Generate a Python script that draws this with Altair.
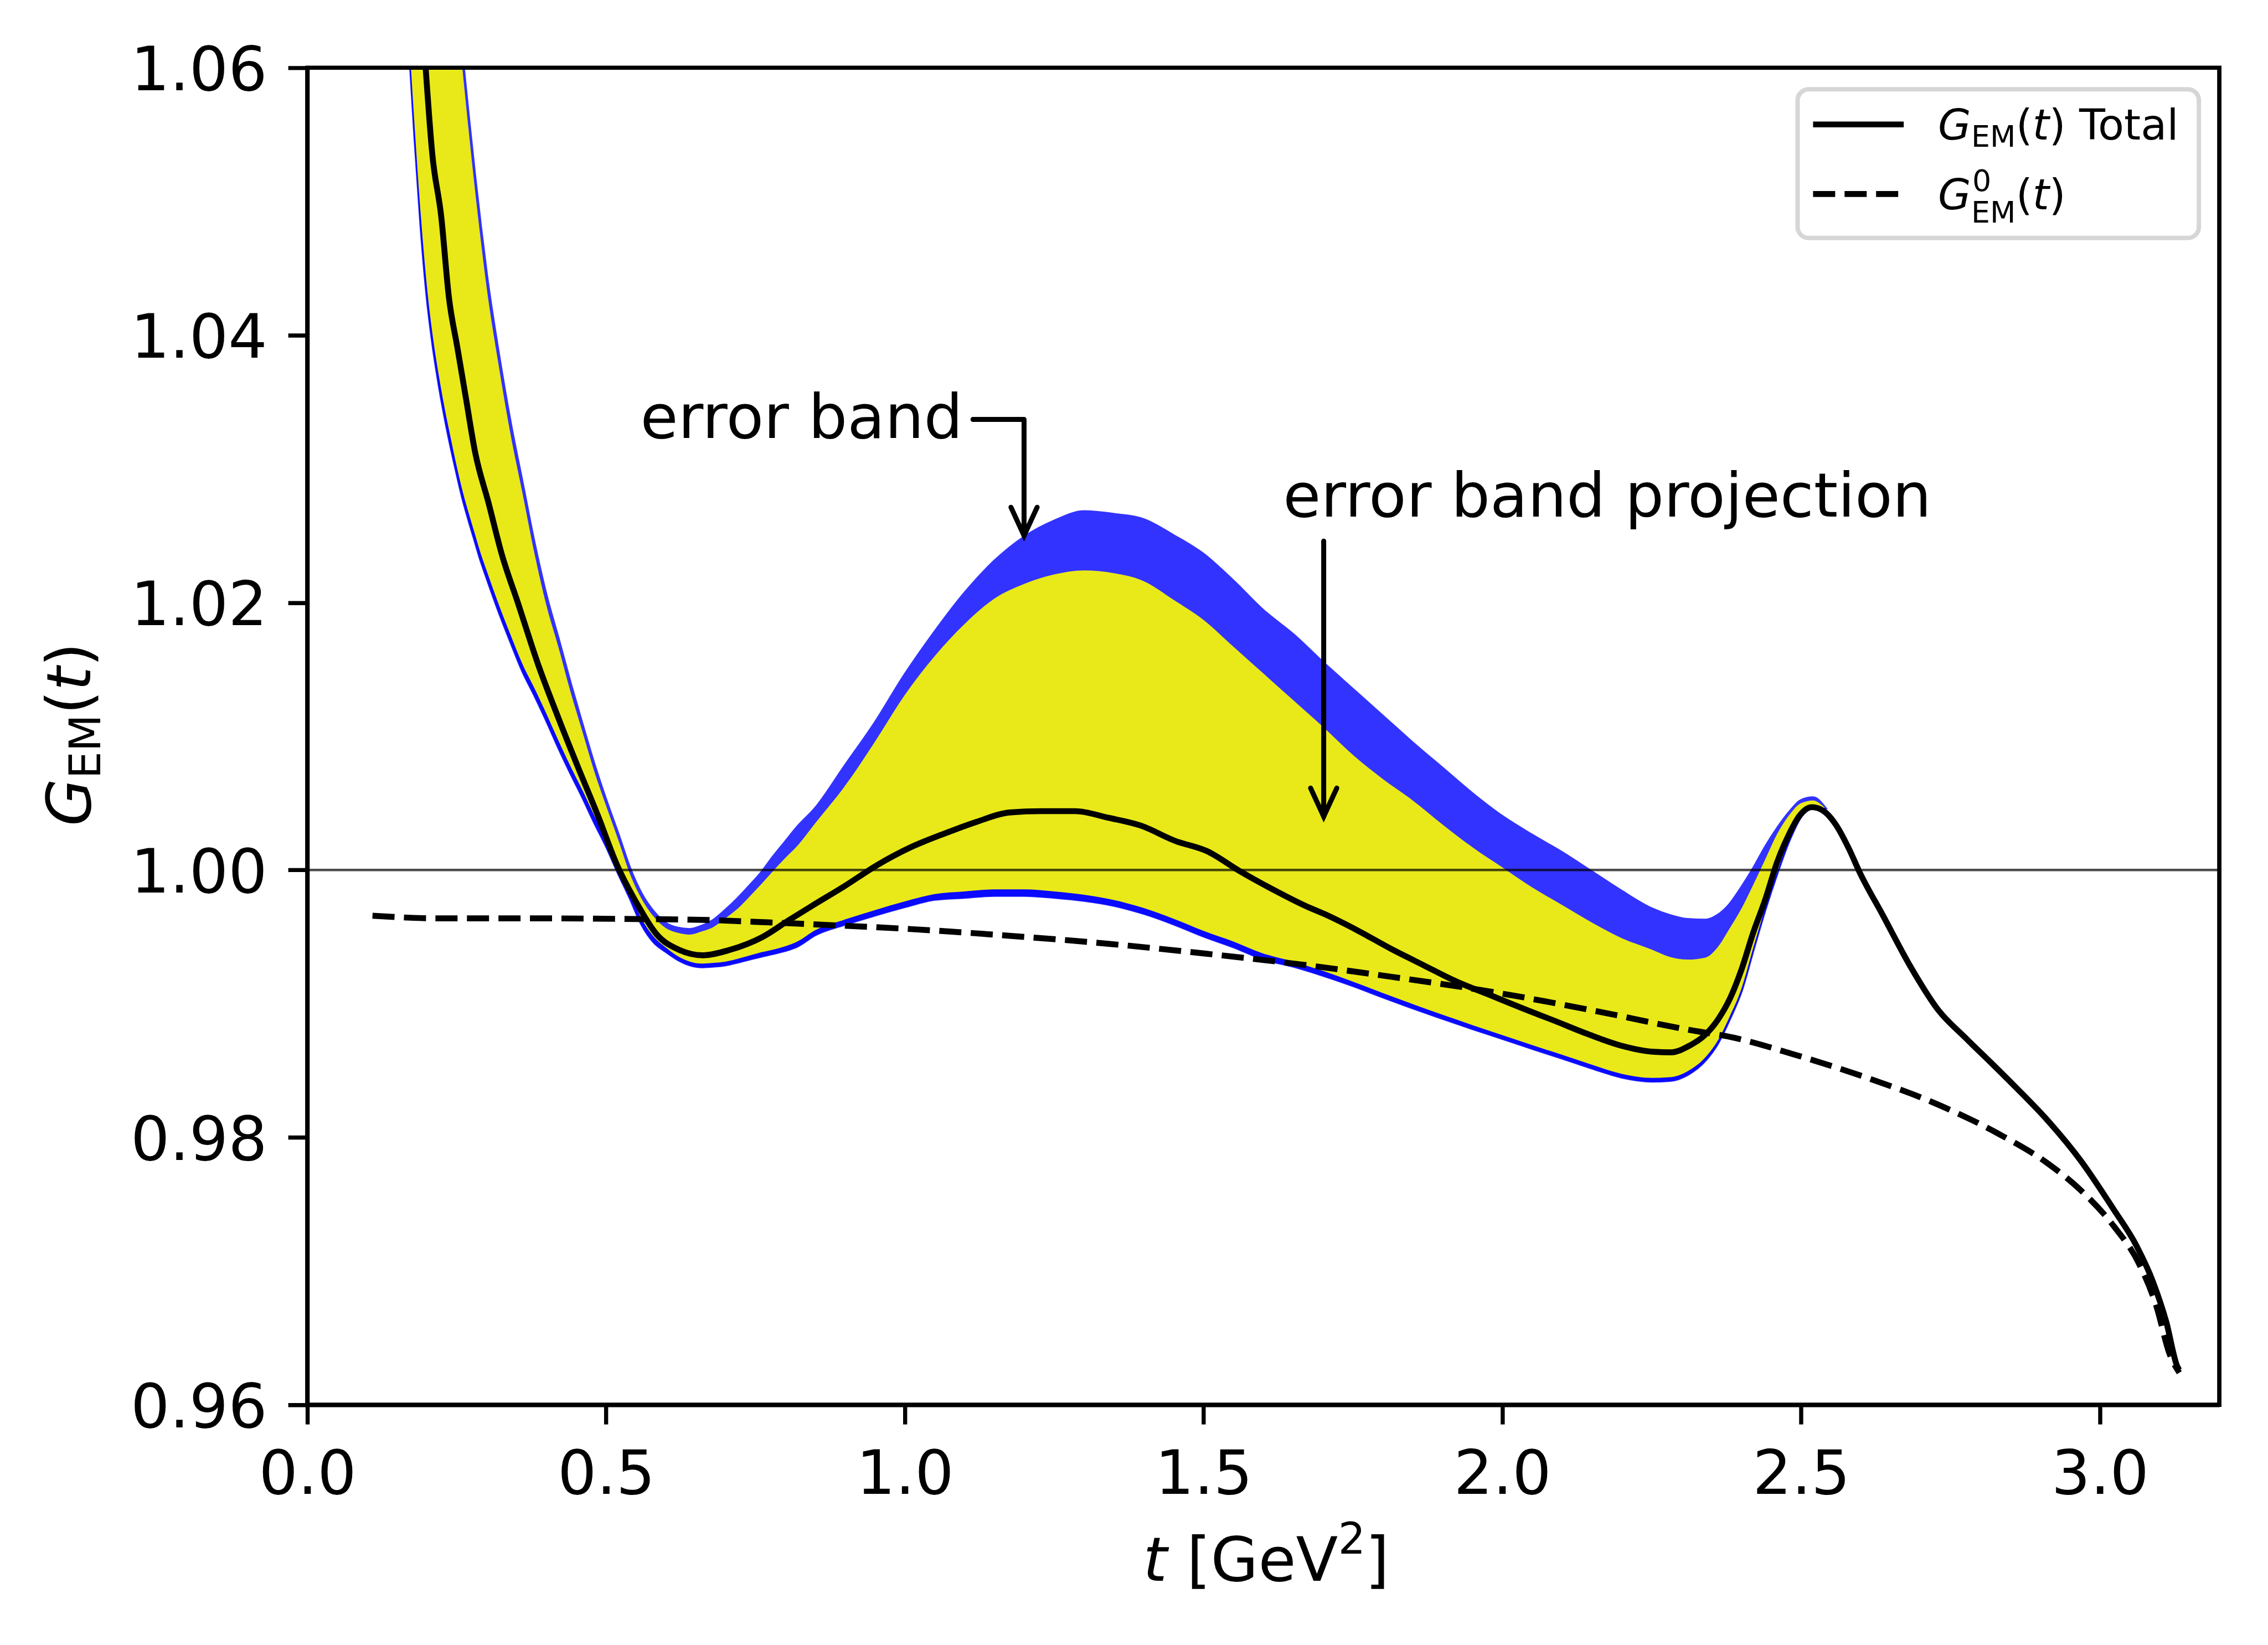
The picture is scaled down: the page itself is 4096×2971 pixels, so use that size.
import altair as alt
import pandas as pd

# ---------------- data ----------------
band_t = [0.17, 0.18, 0.19, 0.20, 0.21, 0.22, 0.23, 0.24, 0.25, 0.26, 0.27, 0.28, 0.29, 0.30,
          0.32, 0.34, 0.36, 0.38, 0.40, 0.42, 0.44, 0.46, 0.48, 0.50, 0.52, 0.54, 0.56, 0.58,
          0.60, 0.62, 0.64, 0.66, 0.68, 0.70, 0.72, 0.74, 0.76, 0.78, 0.80, 0.82,
          0.85, 0.90, 0.95, 1.00, 1.05, 1.10, 1.15, 1.20, 1.25, 1.30, 1.35, 1.40, 1.45, 1.50,
          1.55, 1.60, 1.65, 1.70, 1.75, 1.80, 1.85, 1.90, 1.95, 2.00, 2.05, 2.10, 2.15, 2.20,
          2.25, 2.28, 2.31, 2.34, 2.36, 2.38, 2.40, 2.42, 2.44, 2.46, 2.48, 2.50, 2.52, 2.54]

yel_lo = [1.0625, 1.0553, 1.0489, 1.0437, 1.0399, 1.0370, 1.0345, 1.0323, 1.0302, 1.0283, 1.0267,
          1.0252, 1.0237, 1.0224,
          1.0199, 1.0176, 1.0154, 1.0136, 1.0117, 1.0097, 1.0078, 1.0060, 1.0041, 1.0023, 1.0002,
          0.9983, 0.9963, 0.9950, 0.9942, 0.99355, 0.99315, 0.99300, 0.99305, 0.99315, 0.99335,
          0.99360, 0.99385, 0.99405, 0.99430, 0.99465,
          0.99550, 0.99630, 0.99700, 0.99765, 0.99820, 0.99840, 0.99855, 0.99855, 0.99840, 0.99815,
          0.99775, 0.99715, 0.99635, 0.99545, 0.99465, 0.99375, 0.99315, 0.99245, 0.99165, 0.99080,
          0.98997, 0.98917, 0.98840, 0.98765, 0.98690, 0.98618, 0.98543, 0.98475, 0.98445,
          0.98450, 0.98495, 0.98600,
          0.98720, 0.98900, 0.99111, 0.99420, 0.99720, 0.99990, 1.00230, 1.00410, 1.00470, 1.00465]

yel_hi = [1.100, 1.095, 1.090, 1.085, 1.080, 1.076, 1.072, 1.068, 1.064, 1.0597, 1.0553, 1.0511,
          1.0472, 1.0436,
          1.0378, 1.0326, 1.0282, 1.0237, 1.0198, 1.0167, 1.0134, 1.0104, 1.0074, 1.0048, 1.0023,
          0.9997, 0.9978, 0.9965, 0.99565, 0.99530, 0.99517, 0.99540, 0.99575, 0.99640, 0.99710,
          0.99800, 0.99895, 0.99995, 1.0009, 1.0018,
          1.0035, 1.0063, 1.0096, 1.0131, 1.0160, 1.0184, 1.0203, 1.0214, 1.0221, 1.0224, 1.0222,
          1.0216, 1.0202, 1.0187, 1.0167, 1.0147, 1.0127, 1.0107, 1.0086, 1.0068, 1.0052, 1.0034,
          1.0017, 1.0002, 0.99870, 0.99738, 0.99607, 0.99490, 0.99405,
          0.99350, 0.99330, 0.99345,
          0.99420, 0.99560, 0.99710, 0.99890, 1.0008, 1.0027, 1.0041, 1.0050, 1.0052, 1.00465]

blue_hi = [1.101, 1.096, 1.091, 1.086, 1.081, 1.077, 1.073, 1.069, 1.065, 1.0606, 1.0562, 1.0520,
           1.0481, 1.0445,
           1.0386, 1.0334, 1.0289, 1.0244, 1.0205, 1.0173, 1.0140, 1.0109, 1.0079, 1.0052, 1.0027,
           1.0001, 0.99815, 0.99685, 0.99600, 0.99565, 0.99555, 0.99580, 0.99625, 0.99700, 0.99785,
           0.99880, 0.99980, 1.0010, 1.0021, 1.0032,
           1.0046, 1.0078, 1.0110, 1.0146, 1.0178, 1.0207, 1.0231, 1.0249, 1.0261, 1.0268, 1.0266,
           1.0262, 1.0250, 1.0236, 1.0216, 1.0194, 1.0176, 1.0155, 1.0135, 1.0115, 1.0095, 1.0076,
           1.0057, 1.0040, 1.0026, 1.0013, 0.99985, 0.99840, 0.99710,
           0.99660, 0.99630, 0.99625,
           0.99660, 0.99740, 0.99867, 1.0001, 1.0017, 1.0031, 1.0043, 1.0052, 1.0054, 1.00465]

blue_lo = [1.0620, 1.0547, 1.0482, 1.0430, 1.0393, 1.0364, 1.0339, 1.0317, 1.0297, 1.0278, 1.0262,
           1.0247, 1.0232, 1.0219,
           1.0194, 1.0171, 1.0149, 1.0131, 1.0112, 1.0092, 1.0073, 1.0055, 1.0036, 1.0018, 0.9998,
           0.9979, 0.9959, 0.9946, 0.9939, 0.99330, 0.99290, 0.99275, 0.99280, 0.99290, 0.99310,
           0.99333, 0.99355, 0.99375, 0.99398, 0.99430,
           0.99515, 0.99594, 0.99662, 0.99725, 0.99780, 0.99795, 0.99810, 0.99810, 0.99795, 0.99772,
           0.99735, 0.99675, 0.99596, 0.99505, 0.99425, 0.99335, 0.99280, 0.99212, 0.99135, 0.99050,
           0.98968, 0.98890, 0.98813, 0.98740, 0.98665, 0.98593, 0.98518, 0.98450, 0.98420,
           0.98425, 0.98470, 0.98578,
           0.98700, 0.98882, 0.99095, 0.99405, 0.99707, 0.99978, 1.00220, 1.00400, 1.00465, 1.00465]

total_t = [0.198, 0.209, 0.224, 0.237, 0.251, 0.265, 0.281, 0.303, 0.3255, 0.353,
           0.386, 0.419, 0.452, 0.486, 0.518, 0.552, 0.584, 0.623, 0.662, 0.706,
           0.761, 0.805, 0.844, 0.899, 0.955, 1.010, 1.065, 1.120, 1.175, 1.230,
           1.285, 1.341, 1.396, 1.451, 1.506, 1.561, 1.616, 1.671, 1.702, 1.758,
           1.813, 1.868, 1.923, 1.978, 2.033, 2.088, 2.144, 2.199, 2.254, 2.282,
           2.314, 2.337, 2.361, 2.381, 2.400, 2.420, 2.440, 2.460, 2.479, 2.498,
           2.518, 2.538, 2.558, 2.581, 2.597, 2.637, 2.684, 2.730, 2.775, 2.821,
           2.857, 2.912, 2.967, 3.023, 3.061, 3.089, 3.111, 3.130, 3.133]
total_v = [1.0600, 1.0536, 1.0489, 1.0428, 1.0391, 1.0354, 1.0312, 1.0275, 1.0236, 1.0199,
           1.0154, 1.0115, 1.0078, 1.0041, 1.0004, 0.99746, 0.99522, 0.99401, 0.99362, 0.99401,
           0.99497, 0.99622, 0.99730, 0.99879, 1.0004, 1.0017, 1.0027, 1.0036, 1.0043, 1.0044,
           1.0044, 1.0039, 1.0033, 1.0022, 1.0014, 0.9999, 0.99854, 0.99730, 0.99671, 0.99547,
           0.99412, 0.99288, 0.99166, 0.99067, 0.98967, 0.98871, 0.98771, 0.98686, 0.98640, 0.98636,
           0.98688, 0.98757, 0.98882, 0.99039, 0.99252, 0.99533, 0.99779, 1.0006, 1.0026, 1.0041,
           1.0047, 1.0044, 1.0034, 1.0015, 0.99992, 0.99660, 0.99270, 0.98950, 0.98745, 0.98545,
           0.98385, 0.98130, 0.97832, 0.97462, 0.97192, 0.96919, 0.96623, 0.96283, 0.9626]

g0_t = [0.109, 0.221, 0.386, 0.552, 0.661, 0.772, 0.844, 1.010, 1.175, 1.341,
        1.506, 1.660, 1.813, 1.978, 2.144, 2.309, 2.389, 2.487, 2.609, 2.720,
        2.830, 2.912, 2.967, 3.023, 3.067, 3.094, 3.117, 3.133]
g0_v = [0.99658, 0.99638, 0.99638, 0.99633, 0.99627, 0.99608, 0.99594, 0.99558, 0.99508, 0.99448,
        0.99373, 0.99295, 0.99202, 0.99092, 0.98956, 0.98807, 0.98744, 0.98622, 0.98448, 0.98263,
        0.98028, 0.97808, 0.97609, 0.97338, 0.97043, 0.96747, 0.96377, 0.9624]

x_ticks = [0.0, 0.5, 1.0, 1.5, 2.0, 2.5, 3.0]
y_ticks = [0.96, 0.98, 1.00, 1.02, 1.04, 1.06]
ref_level = [1.0]

# annotation anchors (data coordinates)
eb_text = ["error band"]
eb_text_t = [1.097]
eb_text_v = [1.03233]
eb_path_t = [1.114, 1.1995, 1.1995]
eb_path_v = [1.0337, 1.0337, 1.0250]
ebp_text = ["error band projection"]
ebp_text_t = [1.633]
ebp_text_v = [1.02645]
ebp_path_t = [1.701, 1.701]
ebp_path_v = [1.0246, 1.0040]
tips_t = [1.1995, 1.701]
tips_v = [1.0250, 1.0040]

# ---------------- styling ----------------
W, H = 3459, 2419
FONT = "DejaVu Sans"
FS = 111
LFS = 77
LW = 10.7
SPINE = 7.4
BLUE = "#3333ff"
DARKBLUE = "#0a0aff"
YELLOW = "#e9e919"

xs = alt.Scale(domain=[0, 3.2], nice=False, zero=False)
ys = alt.Scale(domain=[0.96, 1.06], nice=False, zero=False)

common_axis = dict(title=None, grid=False, labelFont=FONT, labelFontSize=FS, labelColor="black",
                   tickColor="black", tickSize=35, tickWidth=SPINE, domainColor="black",
                   domainWidth=SPINE, labelPadding=38, labelOverlap=False, labelFlush=False,
                   labelLimit=2000)
x_axis = alt.Axis(values=x_ticks, format=".1f", **common_axis)
y_axis = alt.Axis(values=y_ticks, format=".2f", labelOffset=7, **common_axis)


def X(field):
    return alt.X(field, type="quantitative", scale=xs, axis=x_axis)


def Y(field):
    return alt.Y(field, type="quantitative", scale=ys, axis=y_axis)


band_df = pd.DataFrame({"t": band_t, "yl": yel_lo, "yh": yel_hi, "bl": blue_lo, "bh": blue_hi})
total_df = pd.DataFrame({"t": total_t, "v": total_v, "o": range(len(total_t))})
g0_df = pd.DataFrame({"t": g0_t, "v": g0_v, "o": range(len(g0_t))})
ref_df = pd.DataFrame({"v": ref_level})

blue_area = alt.Chart(band_df).mark_area(color=BLUE, stroke=BLUE, strokeWidth=5, clip=True,
                                         interpolate="monotone").encode(
    x=X("t"), y=Y("bl"), y2=alt.Y2("bh"))
dark_strip = alt.Chart(band_df).mark_area(color=DARKBLUE, stroke=DARKBLUE, strokeWidth=3, clip=True,
                                          interpolate="monotone").encode(
    x=X("t"), y=Y("bl"), y2=alt.Y2("yl"))
yellow_area = alt.Chart(band_df).mark_area(color=YELLOW, clip=True, interpolate="monotone").encode(
    x=X("t"), y=Y("yl"), y2=alt.Y2("yh"))

ref_rule = alt.Chart(ref_df).mark_rule(color="black", opacity=0.7, strokeWidth=4.7).encode(y=Y("v"))

g0_line = alt.Chart(g0_df).mark_line(color="black", strokeWidth=LW, strokeDash=[40, 17], clip=True,
                                     interpolate="monotone").encode(
    x=X("t"), y=Y("v"), order="o:Q")
total_line = alt.Chart(total_df).mark_line(color="black", strokeWidth=LW, strokeJoin="round", clip=True,
                                           interpolate="monotone").encode(
    x=X("t"), y=Y("v"), order="o:Q")

# annotations
eb_path = alt.Chart(pd.DataFrame({"t": eb_path_t, "v": eb_path_v, "o": range(3)})).mark_line(
    color="black", strokeWidth=9, strokeCap="round", strokeJoin="round").encode(x=X("t"), y=Y("v"), order="o:Q")
ebp_path = alt.Chart(pd.DataFrame({"t": ebp_path_t, "v": ebp_path_v, "o": range(2)})).mark_line(
    color="black", strokeWidth=9, strokeCap="round").encode(x=X("t"), y=Y("v"), order="o:Q")
heads = alt.Chart(pd.DataFrame({"t": tips_t, "v": tips_v})).mark_point(
    shape="M -0.46 -1 L 0 0 L 0.46 -1", size=10600, filled=False, stroke="black", strokeWidth=9,
    strokeCap="round", strokeJoin="miter", opacity=1).encode(x=X("t"), y=Y("v"))
eb_label = alt.Chart(pd.DataFrame({"t": eb_text_t, "v": eb_text_v, "s": eb_text})).mark_text(
    font=FONT, fontSize=FS, align="right", baseline="alphabetic", color="black").encode(
    x=X("t"), y=Y("v"), text="s:N")
ebp_label = alt.Chart(pd.DataFrame({"t": ebp_text_t, "v": ebp_text_v, "s": ebp_text})).mark_text(
    font=FONT, fontSize=FS, align="left", baseline="alphabetic", color="black").encode(
    x=X("t"), y=Y("v"), text="s:N")

one = pd.DataFrame({"k": [0]})


def piece(s, x, y, size, italic=False, angle=None):
    kw = dict(text=s, font=FONT, fontSize=size, align="left", baseline="alphabetic", color="black")
    if italic:
        kw["fontStyle"] = "italic"
    if angle is not None:
        kw["angle"] = angle
    return alt.Chart(one).mark_text(**kw).encode(x=alt.value(x), y=alt.value(y))


SUB = FS * 0.7
# y-axis title: G_EM(t), rotated
ytitle = [
    piece("G", -393, 1372, FS, italic=True, angle=270),
    piece("EM", -375, 1286, SUB, angle=270),
    piece("(", -393, 1170, FS, angle=270),
    piece("t", -393, 1127, FS, italic=True, angle=270),
    piece(")", -393, 1083.5, FS, angle=270),
]
# x-axis title: t [GeV^2]
xtitle = [
    piece("t", 1512, 2737, FS, italic=True),
    piece("[GeV", 1591, 2737, FS),
    piece("2", 1865, 2688, SUB),
    piece("]", 1914, 2737, FS),
]

# legend
LSUB = LFS * 0.7
leg_box = alt.Chart(one).mark_rect(fill="white", fillOpacity=0.8, stroke="#d6d6d6", strokeWidth=8,
                                   cornerRadius=20).encode(
    x=alt.value(2696), x2=alt.value(3422), y=alt.value(39), y2=alt.value(308))
leg_solid = alt.Chart(one).mark_rule(color="black", strokeWidth=LW).encode(
    x=alt.value(2724), x2=alt.value(2888), y=alt.value(102.6))
leg_dash = alt.Chart(one).mark_rule(color="black", strokeWidth=LW, strokeDash=[40, 17]).encode(
    x=alt.value(2724), x2=alt.value(2888), y=alt.value(228.5))
legend_txt = [
    piece("G", 2950, 130, LFS, italic=True),
    piece("EM", 3010, 142.5, LSUB),
    piece("(", 3091, 130, LFS),
    piece("t", 3121, 130, LFS, italic=True),
    piece(") Total", 3151, 130, LFS),
    piece("G", 2950, 256, LFS, italic=True),
    piece("0", 3012, 223, LSUB),
    piece("EM", 3010, 280, LSUB),
    piece("(", 3091, 256, LFS),
    piece("t", 3121, 256, LFS, italic=True),
    piece(")", 3151, 256, LFS),
]

# plot frame (all four spines)
frame = alt.Chart(one).mark_rect(fillOpacity=0, stroke="black", strokeWidth=SPINE).encode(
    x=alt.value(0), x2=alt.value(W), y=alt.value(0), y2=alt.value(H))

chart = alt.layer(
    blue_area, dark_strip, yellow_area, ref_rule, g0_line, total_line,
    eb_path, ebp_path, heads, eb_label, ebp_label,
    *ytitle, *xtitle, leg_box, leg_solid, leg_dash, *legend_txt, frame
).properties(
    width=W, height=H,
    padding={"left": 548, "top": 112, "right": 80, "bottom": 430},
    autosize=alt.AutoSizeParams(type="none"),
).configure_view(stroke="black", strokeWidth=SPINE)

chart.save("out.html", embed_options={"renderer": "svg", "actions": False})
